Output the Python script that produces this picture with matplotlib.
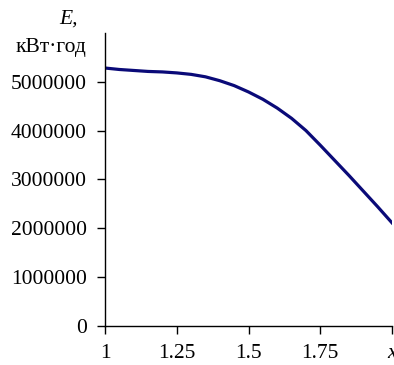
import matplotlib.pyplot as plt

# Дані кривої E(x)
x = [1.0, 1.05, 1.1, 1.15, 1.2, 1.25, 1.3, 1.35, 1.4, 1.45, 1.5, 1.55,
     1.6, 1.65, 1.7, 1.75, 1.8, 1.85, 1.9, 1.95, 2.0]
E = [5280000, 5250000, 5230000, 5210000, 5200000, 5180000, 5150000, 5100000,
     5020000, 4920000, 4790000, 4640000, 4460000, 4250000, 4000000, 3700000,
     3390000, 3080000, 2760000, 2440000, 2110000]

x_ticks = [1, 1.25, 1.5, 1.75, 2]
x_labels = ["1", "1.25", "1.5", "1.75", "x"]
y_ticks = [0, 1000000, 2000000, 3000000, 4000000, 5000000]

plt.rcParams["font.family"] = ["Liberation Serif", "DejaVu Serif"]

fig = plt.figure(figsize=(3.94, 3.65), dpi=100)
ax = fig.add_axes([0.2665, 0.107, 0.7285, 0.803])

ax.plot(x, E, color="#0a0a78", linewidth=2.3, solid_joinstyle="round")

ax.set_xlim(1, 2)
ax.set_ylim(0, 6000000)
ax.set_xticks(x_ticks)
ax.set_xticklabels(x_labels)
ax.set_yticks(y_ticks)
ax.set_yticklabels([str(v) for v in y_ticks])
ax.get_xticklabels()[-1].set_style("italic")

for s in ["top", "right"]:
    ax.spines[s].set_visible(False)
for s in ["left", "bottom"]:
    ax.spines[s].set_linewidth(1.0)

ax.tick_params(axis="both", direction="out", length=6, width=1.0,
               labelsize=15.5, pad=7)

fig.text(0.175, 0.948, "E,", fontsize=15.5, style="italic", ha="center", va="center")
fig.text(0.13, 0.87, "кВт·год", fontsize=15.5, ha="center", va="center")

fig.savefig("out.png", dpi=100)
